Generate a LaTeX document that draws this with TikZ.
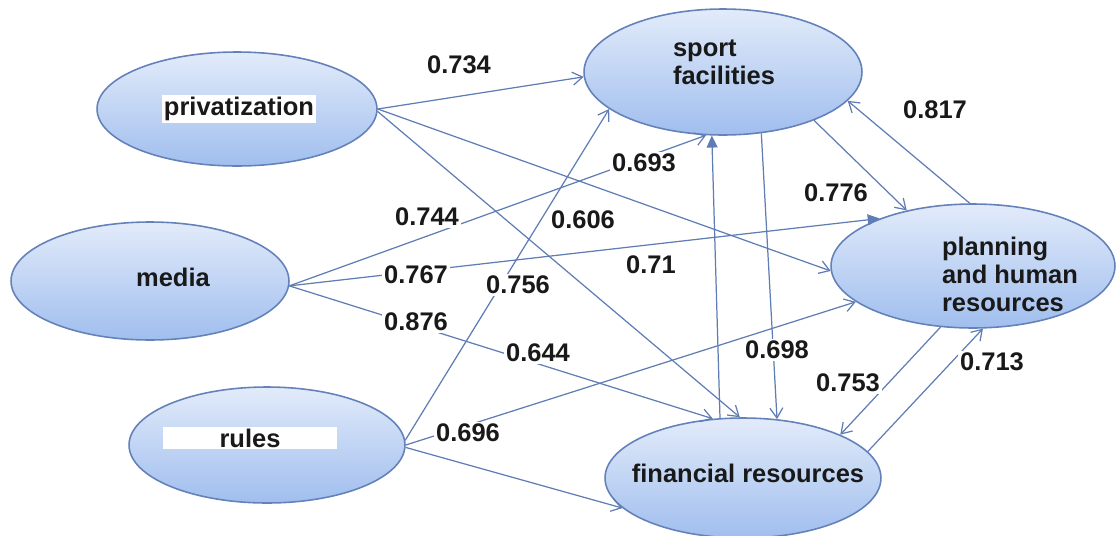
\documentclass[tikz,border=0pt]{standalone}
\usepackage{fontspec}
\setmainfont{Liberation Sans}
\usepackage{tikz}
\usetikzlibrary{shapes.geometric, arrows.meta}

\definecolor{elltop}{RGB}{226,235,250}
\definecolor{ellbot}{RGB}{160,190,238}
\definecolor{ellline}{RGB}{100,130,185}
\definecolor{pathblue}{RGB}{95,125,180}

\begin{document}
\begin{tikzpicture}[
    x=0.02cm, y=-0.02cm,
    construct/.style={ellipse, draw=ellline, line width=0.9pt, top color=elltop, bottom color=ellbot, inner sep=0pt},
    title/.style={font=\fontsize{14.5}{16}\selectfont\bfseries, text=black!90, align=left, inner sep=1pt},
    weight/.style={font=\fontsize{14.5}{16}\selectfont\bfseries, text=black!90, fill=white, inner sep=1pt},
    arrow/.style={draw=pathblue, line width=0.7pt, -{Straight Barb[length=2mm, width=2.6mm]}},
    fatarrow/.style={draw=pathblue, line width=0.7pt, -{Triangle[length=2.4mm, width=2.2mm]}},
]
    \useasboundingbox (0,0) rectangle (1120,535);

    % latent constructs
    \node (priv) [construct, minimum width=5.6cm, minimum height=2.28cm] at (237,109) {};
    \node (media) [construct, minimum width=5.56cm, minimum height=2.36cm] at (150,281) {};
    \node (rules) [construct, minimum width=5.52cm, minimum height=2.32cm] at (267,445) {};
    \node (sport) [construct, minimum width=5.56cm, minimum height=2.52cm] at (723,72) {};
    \node (plan) [construct, minimum width=5.68cm, minimum height=2.48cm] at (973,266) {};
    \node (fin) [construct, minimum width=5.52cm, minimum height=2.4cm] at (743,478) {};

    % construct titles
    \node (priv_txt) [title, fill=white] at (239,109) {privatization};
    \node (media_txt) [title] at (173,277) {media};
    \node (rules_txt) [title, fill=white, minimum width=3.5cm, align=center] at (250,438) {rules};
    \node (sport_txt) [title] at (724,62) {sport\\facilities};
    \node (plan_txt) [title] at (1010,274) {planning\\and human\\resources};
    \node (fin_txt) [title] at (748,473) {financial resources};

    % paths from privatization
    \draw [arrow] (priv.east) -- (sport.182);
    \draw [arrow] (priv.east) -- (plan.182);
    \draw [arrow] (priv.-1) -- (fin.93);

    % paths from media
    \draw [arrow] (media.-2) -- (sport.255);
    \draw [fatarrow] (media.-2) -- (plan.153);
    \draw [arrow] (media.-2) -- (fin.117);

    % paths from rules
    \draw [arrow] (rules.2) -- (sport.198);
    \draw [arrow] (rules.0) -- (plan.197);
    \draw [arrow] (rules.-1) -- (fin.194);

    % paths among the outcomes
    \draw [fatarrow, {Triangle[length=2.4mm, width=2.2mm]}-] (sport.260) -- (fin.111);
    \draw [arrow] (sport.-58) -- (fin.60);
    \draw [arrow] (sport.-28) -- (plan.140);
    \draw [arrow] (plan.93) -- (sport.-13);
    \draw [arrow] (plan.242) -- (fin.24);
    \draw [arrow] (fin.12) -- (plan.279);

    % path weights
    \node (w_734) [weight] at (459,65) {0.734};
    \node (w_817) [weight] at (935,110) {0.817};
    \node (w_693) [weight] at (644,163) {0.693};
    \node (w_776) [weight] at (836,193) {0.776};
    \node (w_744) [weight] at (427,217) {0.744};
    \node (w_606) [weight] at (583,220) {0.606};
    \node (w_767) [weight] at (416,275) {0.767};
    \node (w_71) [weight] at (651,265) {0.71};
    \node (w_756) [weight] at (518,285) {0.756};
    \node (w_876) [weight] at (416,322) {0.876};
    \node (w_644) [weight] at (538,353) {0.644};
    \node (w_698) [weight] at (777,350) {0.698};
    \node (w_753) [weight] at (848,383) {0.753};
    \node (w_713) [weight] at (992,362) {0.713};
    \node (w_696) [weight] at (468,433) {0.696};

\end{tikzpicture}
\end{document}
